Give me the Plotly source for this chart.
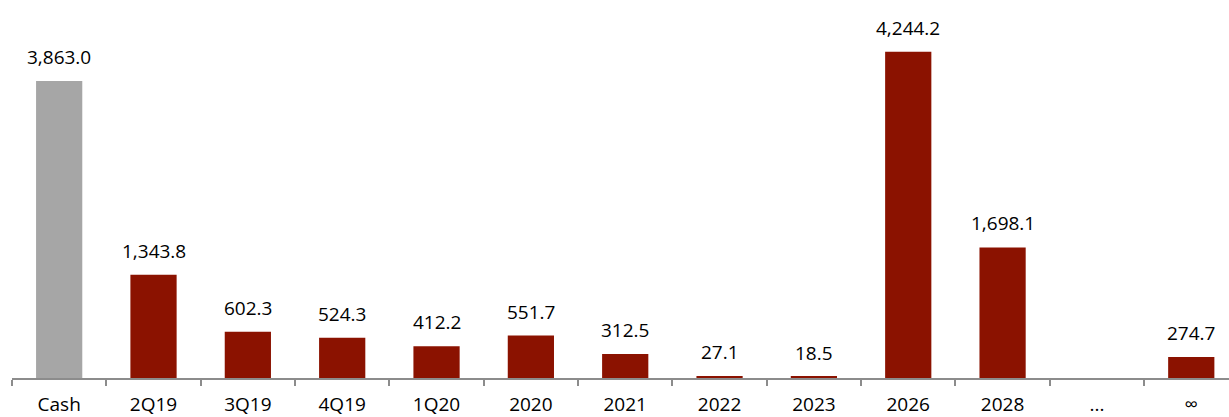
import plotly.graph_objects as go

categories = ["Cash", "2Q19", "3Q19", "4Q19", "1Q20", "2020", "2021", "2022", "2023", "2026", "2028", "...", "∞"]
values = [3863.0, 1343.8, 602.3, 524.3, 412.2, 551.7, 312.5, 27.1, 18.5, 4244.2, 1698.1, None, 274.7]
colors = ["#A6A6A6"] + ["#8B1200"] * 12

fig = go.Figure(go.Bar(
    x=categories,
    y=values,
    marker=dict(color=colors, line=dict(width=0)),
    cliponaxis=False,
    width=0.49,
    hoverinfo="x+y",
))

for i, v in enumerate(values):
    if v is None:
        continue
    fig.add_annotation(
        x=i, y=v, text=f"{v:,.1f}", showarrow=False,
        yanchor="bottom", yshift=9,
        font=dict(size=19, color="#000000"),
    )

fig.update_layout(
    width=1229, height=417,
    margin=dict(l=12, r=0, t=10, b=37),
    paper_bgcolor="white", plot_bgcolor="white",
    font=dict(family="Open Sans, Liberation Sans, sans-serif", size=19, color="#000000"),
    showlegend=False,
    xaxis=dict(
        type="category",
        range=[-0.5, 12.4],
        showline=True, linecolor="#8C8C8C", linewidth=2,
        ticks="outside", tickson="boundaries", ticklen=6, tickcolor="#8C8C8C", tickwidth=2,
        ticklabelstandoff=8,
        showgrid=False, tickfont=dict(size=19, color="#000000"),
    ),
    yaxis=dict(
        range=[0, 4788], visible=False, showgrid=False, zeroline=False,
    ),
)

fig.write_html("out.html")
